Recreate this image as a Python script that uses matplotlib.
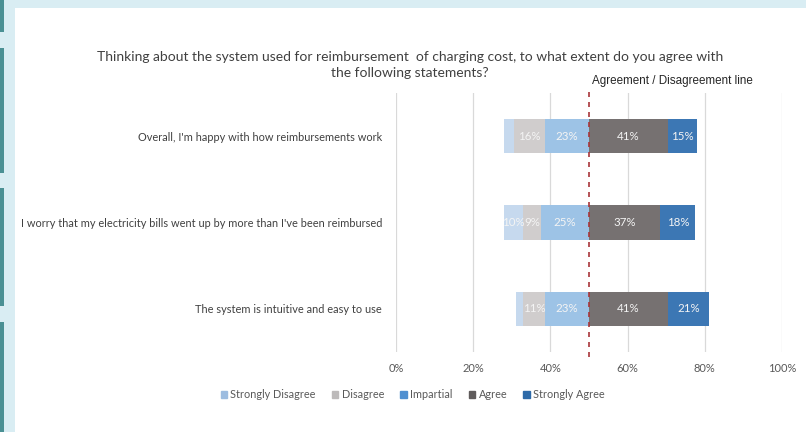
import matplotlib.pyplot as plt
from matplotlib.patches import Rectangle
import numpy as np

statements = [
    "Overall, I'm happy with how reimbursements work",
    "I worry that my electricity bills went up by more than I've been reimbursed",
    "The system is intuitive and easy to use",
]
levels = ["Strongly Disagree", "Disagree", "Impartial", "Agree", "Strongly Agree"]
strongly_disagree = [5, 10, 4]
disagree = [16, 9, 11]
impartial = [23, 25, 23]
agree = [41, 37, 41]
strongly_agree = [15, 18, 21]

colors = ["#c6d9ee", "#d0cdcd", "#9dc3e6", "#767171", "#3c77b4"]
legend_colors = ["#9dbde0", "#bdbaba", "#4f8fd0", "#5f5b5b", "#2e6aa8"]

plt.rcParams['font.family'] = ['Lato', 'DejaVu Sans']

fig = plt.figure(figsize=(8.06, 4.32), dpi=100)

# page frame around the chart
fig.patches.append(Rectangle((0, 0), 1, 1, transform=fig.transFigure,
                             facecolor="#d9edf3", edgecolor="none", zorder=-3))
fig.patches.append(Rectangle((15 / 806, 0), 1, 1 - 8 / 432, transform=fig.transFigure,
                             facecolor="white", edgecolor="none", zorder=-2))
for y0, y1 in [(0, 32), (48, 173), (188, 306), (322, 432)]:
    fig.patches.append(Rectangle((0, 1 - y1 / 432), 4 / 806, (y1 - y0) / 432,
                                 transform=fig.transFigure, facecolor="#4a9094",
                                 edgecolor="none", zorder=-1))

ax = fig.add_axes([396 / 806, 1 - 352 / 432, 386 / 806, 259 / 432])

data = np.array([strongly_disagree, disagree, impartial, agree, strongly_agree], dtype=float)
scale = 0.5  # each statement spans half of the axis
ypos = np.arange(len(statements))
left = 50 - (data[0] + data[1] + data[2]) * scale

for i, lvl in enumerate(levels):
    w = data[i] * scale
    ax.barh(ypos, w, left=left, height=0.4, color=colors[i], zorder=2)
    for y, l, v, ww in zip(ypos, left, data[i], w):
        if v > 5:
            ax.text(l + ww / 2, y, f"{int(v)}%", ha="center", va="center",
                    fontsize=8.3, color="#f4f4f4", zorder=3)
    left = left + w

ax.set_xlim(0, 100)
ax.set_ylim(2.5, -0.5)
ax.set_xticks(np.arange(0, 101, 20))
ax.set_xticklabels([f"{t}%" for t in range(0, 101, 20)], fontsize=8, color="#595959")
ax.set_yticks(ypos)
ax.set_yticklabels(statements, fontsize=7.9, color="#404040")
ax.tick_params(length=0, pad=8)
ax.tick_params(axis="y", pad=10)
ax.grid(axis="x", color="#d9d9d9", linewidth=0.9, zorder=0)
for s in ax.spines.values():
    s.set_visible(False)

# agreement / disagreement divider
ax.plot([50, 50], [2.56, -0.54], color="#a8353a", linestyle=(0, (3, 3)),
        linewidth=1.2, clip_on=False, zorder=4)
ax.text(50.7, -0.57, "Agreement / Disagreement line", fontsize=8.4,
        family="Liberation Sans", color="#262626", va="bottom")

# two-line title, one text per line
fig.text(0.509, 1 - 57 / 432,
         "Thinking about the system used for reimbursement  of charging cost, to what extent do you agree with",
         ha="center", va="center", fontsize=10, color="#404040")
fig.text(0.509, 1 - 73 / 432, "the following statements?",
         ha="center", va="center", fontsize=10, color="#404040")

handles = [Rectangle((0, 0), 1, 1, color=c) for c in legend_colors]
fig.legend(handles, levels, loc="center", bbox_to_anchor=(0.512, 1 - 395 / 432),
           ncol=5, frameon=False, fontsize=7.8, handlelength=0.6, handleheight=0.6,
           handletextpad=0.3, columnspacing=1.5, labelcolor="#595959")

fig.savefig("out.png", dpi=100)
